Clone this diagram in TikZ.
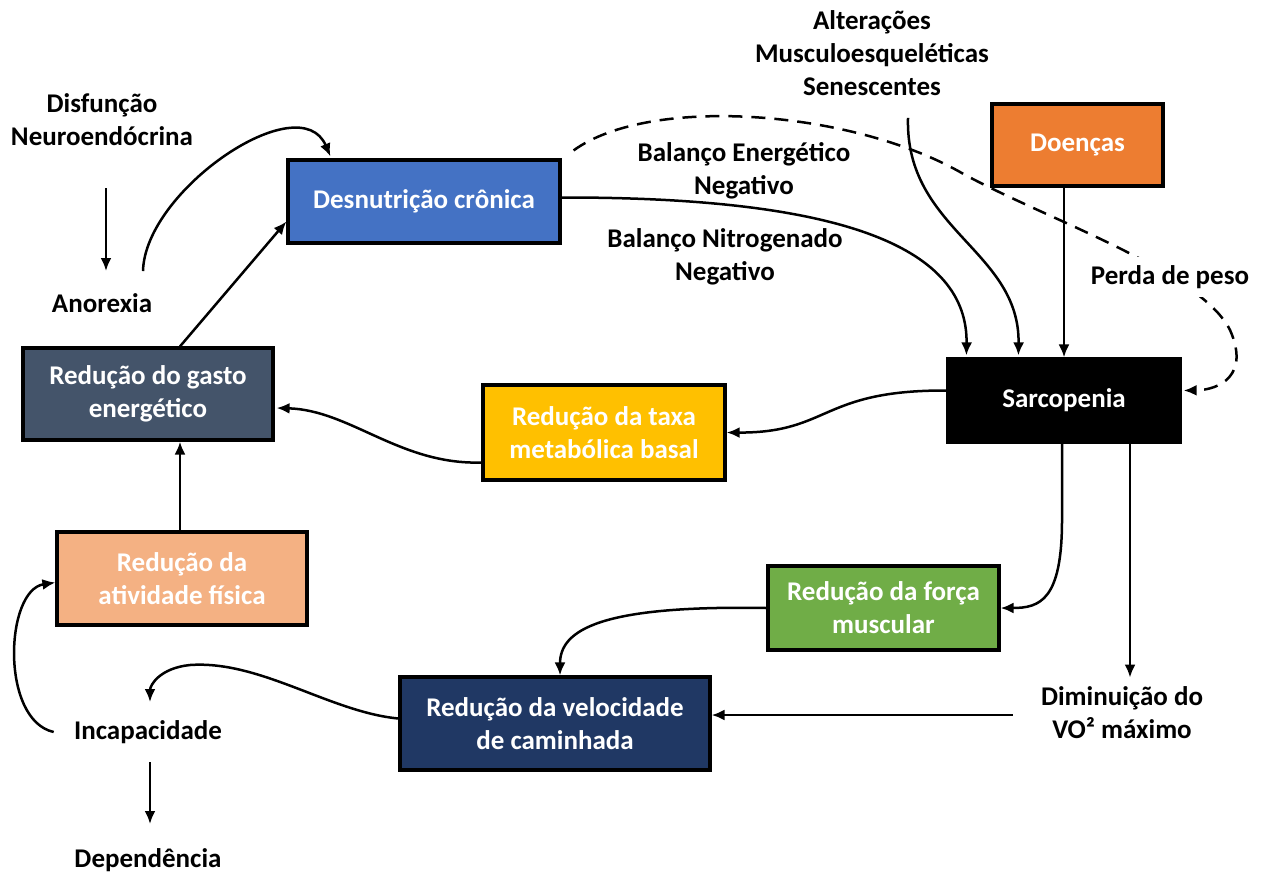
\documentclass[tikz,border=0pt]{standalone}
\usepackage{fontspec}
\setmainfont{Carlito}
\usetikzlibrary{arrows.meta,calc}
\definecolor{cDesn}{HTML}{4472C4}
\definecolor{cDoen}{HTML}{ED7D31}
\definecolor{cGasto}{HTML}{44546A}
\definecolor{cTaxa}{HTML}{FFC000}
\definecolor{cAtiv}{HTML}{F4B183}
\definecolor{cForca}{HTML}{70AD47}
\definecolor{cVeloc}{HTML}{203864}
\begin{document}
\begin{tikzpicture}[x=0.5pt,y=-0.5pt,
  font=\fontsize{13.5}{16.5}\selectfont\bfseries,
  box/.style={draw=black,line width=1.6pt,text=white,align=center,inner sep=0pt},
  lbl/.style={align=center,inner sep=2pt},
  link/.style={line width=1.25pt},
  arr/.style={link,-{Latex[length=6.5pt,width=5.5pt]}}]
\useasboundingbox (0,0) rectangle (1263,874);

% boxes
\node[box,fill=cDesn,minimum width=136pt,minimum height=41.5pt] (desn) at (424,201.5) {Desnutrição crônica};
\node[box,fill=cDoen,minimum width=85.5pt,minimum height=41pt] (doen) at (1077.5,145) {Doenças};
\node[box,fill=black,minimum width=116pt,minimum height=41.5pt] (sarc) at (1064,400.5) {Sarcopenia};
\node[box,fill=cGasto,minimum width=125pt,minimum height=46pt] (gasto) at (148,394) {Redução do gasto\\energético};
\node[box,fill=cTaxa,minimum width=121pt,minimum height=47.5pt] (taxa) at (604,432.5) {Redução da taxa\\metabólica basal};
\node[box,fill=cAtiv,minimum width=125pt,minimum height=46.5pt] (ativ) at (182,578.5) {Redução da\\atividade física};
\node[box,fill=cForca,minimum width=115.5pt,minimum height=42pt] (forca) at (883.5,608) {Redução da força\\muscular};
\node[box,fill=cVeloc,minimum width=155pt,minimum height=46.5pt] (veloc) at (555,723.5) {Redução da velocidade\\de caminhada};

% free labels
\node[lbl] (disf) at (102,120) {Disfunção\\Neuroendócrina};
\node[lbl] (anor) at (102,303) {Anorexia};
\node[lbl] (alt) at (872,53) {Alterações\\Musculoesqueléticas\\Senescentes};
\node[lbl] (bal1) at (744,171) {Balanço Energético\\Negativo};
\node[lbl] (bal2) at (725,257) {Balanço Nitrogenado\\Negativo};
\node[lbl] (vo2) at (1122,713) {Diminuição do\\VO² máximo};
\node[lbl] (incap) at (148,732) {Incapacidade};
\node[lbl] (dep) at (148,860) {Dependência};

% start of the VO2 connector, left of its label
\coordinate (vo2in) at ($(vo2.west)+(-24,2)$);

% connectors
\draw[arr] ($(disf.south)+(4,38)$) -- ($(anor.north)+(4,-18)$);
\draw[arr] ($(anor.north)+(41,-18)$) .. controls (145,190) and (300,85) .. ($(desn.north west)+(44,-2)$);
\draw[arr] ($(gasto.north)+(32,0)$) -- ($(desn.west)+(0,20)$);
\draw[arr] ($(alt.south)+(36,18)$) .. controls (905,230) and (1020,250) .. ($(sarc.north west)+(72,-2)$);
\draw[arr] (sarc.north |- doen.south) -- (sarc.north);
\draw[arr] ($(desn.east)+(0,-4)$) .. controls (850,197) and (968,250) .. ($(sarc.north west)+(20,-2)$);
\draw[link,dash pattern=on 7pt off 4.5pt,-{Latex[length=6.5pt,width=5.5pt]}]
  ($(desn.north east)+(12,-8)$) .. controls (650,95) and (850,110) .. (960,172)
  .. controls (1040,217) and (1200,270) .. (1230,330)
  .. controls (1250,375) and (1220,390) .. ($(sarc.east)+(2,-10)$);
\node[lbl,fill=white,inner sep=4pt] (perda) at (1170,277) {Perda de peso};
\draw[arr] ($(sarc.west)+(0,-10)$) .. controls (820,390) and (830,433) .. (taxa.east);
\draw[arr] ($(taxa.west)+(0,30)$) .. controls (400,465) and (350,410) .. ($(gasto.east)+(2,14)$);
\draw[arr] (ativ.north -| 180,0) -- (gasto.south -| 180,0);
\draw[arr] ($(sarc.south)+(-2,0)$) -- (1062,520) .. controls (1062,600) and (1040,608) .. (forca.east);
\draw[arr] ($(sarc.south)+(66,0)$) -- ($(sarc.south)+(66,234)$);
\draw[arr] (vo2in) -- (vo2in -| veloc.east);
\draw[arr] (forca.west) .. controls (600,605) and (560,630) .. ($(veloc.north)+(5,0)$);
\draw[arr] ($(veloc.west)+(0,-5)$) .. controls (330,712) and (260,660) .. (190,665)
  .. controls (160,668) and (150,685) .. ($(incap.north)+(2,-14)$);
\draw[arr] ($(incap.west)+(-16,0)$) .. controls (0,720) and (5,590) .. ($(ativ.west)+(0,4)$);
\draw[arr] ($(incap.south)+(2,14)$) -- ($(dep.north)+(2,-20)$);
\end{tikzpicture}
\end{document}
